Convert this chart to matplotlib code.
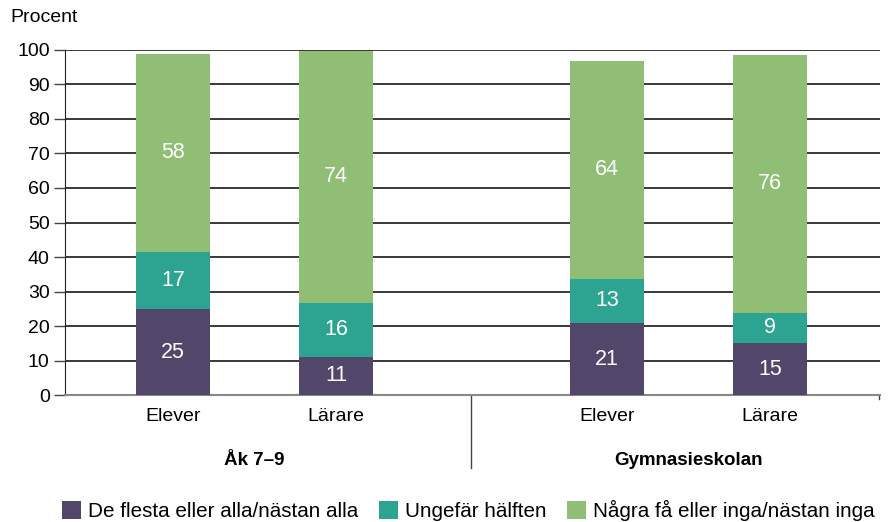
import matplotlib.pyplot as plt
from matplotlib.transforms import blended_transform_factory

plt.rcParams['font.family'] = ['Liberation Sans', 'DejaVu Sans']

categories = ['Elever', 'Lärare', 'Elever', 'Lärare']
groups = ['Åk 7–9', 'Gymnasieskolan']
series = ['De flesta eller alla/nästan alla', 'Ungefär hälften', 'Några få eller inga/nästan inga']

# segment heights
most = [25.0, 11.2, 21.0, 15.2]
half = [16.5, 15.6, 12.7, 8.6]
few = [57.3, 72.8, 63.0, 74.7]
# figures printed in the bars
most_lbl = [25, 11, 21, 15]
half_lbl = [17, 16, 13, 9]
few_lbl = [58, 74, 64, 76]

colors = ['#52476b', '#2ca491', '#91be75']
xpos = [0, 1, 2.663, 3.663]
width = 0.454

fig = plt.figure(figsize=(8.88, 5.22), dpi=100)
ax = fig.add_axes([65 / 888, 1 - 395.3 / 522, 815 / 888, 345.6 / 522])

bottom = [0, 0, 0, 0]
for vals, lbls, col, name in zip([most, half, few], [most_lbl, half_lbl, few_lbl], colors, series):
    bars = ax.bar(xpos, vals, width, bottom=bottom, color=col, label=name, zorder=3)
    for x, b, v, l in zip(xpos, bottom, vals, lbls):
        ax.text(x, b + v / 2, str(l), ha='center', va='center', color='white', fontsize=15.5, zorder=4)
    bottom = [b + v for b, v in zip(bottom, vals)]

ax.set_xlim(-0.663, 4.337)
ax.set_ylim(0, 100)
ax.set_yticks(range(0, 101, 10))
ax.yaxis.grid(True, color='#2a2a2a', linewidth=1.3, zorder=0)
ax.tick_params(axis='y', length=8, width=1, color='#444', labelsize=14, pad=3)
ax.set_xticks(xpos)
ax.set_xticklabels(categories)
ax.tick_params(axis='x', length=0, labelsize=14, pad=9)
for s in ['top', 'right']:
    ax.spines[s].set_visible(False)
ax.spines['left'].set_color('#222')
ax.spines['bottom'].set_color('#888')
ax.spines['bottom'].set_linewidth(1.5)

tr = blended_transform_factory(ax.transData, ax.transAxes)
ax.plot([1.83, 1.83], [0, -0.211], transform=tr, color='#444', lw=1, clip_on=False)
ax.plot([4.33, 4.33], [0, -0.012], transform=tr, color='#444', lw=1, clip_on=False)
ax.text((xpos[0] + xpos[1]) / 2, -0.188, groups[0], transform=tr, ha='center', va='center',
        fontsize=13.5, fontweight='bold')
ax.text((xpos[2] + xpos[3]) / 2, -0.188, groups[1], transform=tr, ha='center', va='center',
        fontsize=13.5, fontweight='bold')

fig.text(10 / 888, 1 - 18 / 522, 'Procent', fontsize=14, va='center', ha='left')

fig.legend(loc='lower left', bbox_to_anchor=(62 / 888, 0.002), ncol=3, frameon=False,
           fontsize=14.9, borderpad=0, borderaxespad=0, handlelength=0.93, handleheight=0.93,
           handletextpad=0.32, columnspacing=1.0)

fig.savefig('out.png', dpi=100)
